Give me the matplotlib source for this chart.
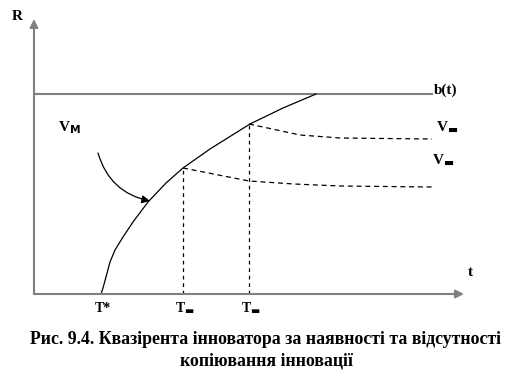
import matplotlib.pyplot as plt

# values (t to the right, R upward, origin at axes corner)
curve_t = [67, 69, 72, 76, 81, 89, 99, 114, 132, 149, 176, 216, 249, 282]
curve_r = [0, 6, 17, 32, 44, 57, 72, 92, 111, 126, 145, 170, 186, 200]

b_level = 200
b_end = 398

# dashed paths after copying starts
low_t = [149, 215, 260, 306, 398]
low_r = [126, 113, 110, 108, 107]
high_t = [215, 266, 306, 398]
high_r = [170, 159, 156, 155]

t_star = 67
t_low = 149
t_high = 215

plt.rcParams['font.family'] = ['Liberation Serif', 'DejaVu Sans']

fig = plt.figure(figsize=(5.32, 3.88), dpi=100)
ax = fig.add_axes([0, 0, 1, 1])
ax.set_xlim(-34, 498)
ax.set_ylim(-94, 294)
ax.axis('off')

grey = '#808080'
# axes with arrows
ax.annotate('', xy=(430, 0), xytext=(0, 0),
            arrowprops=dict(arrowstyle='-|>', color=grey, lw=1.5,
                            mutation_scale=12, shrinkA=0, shrinkB=0))
ax.annotate('', xy=(0, 275), xytext=(0, 0),
            arrowprops=dict(arrowstyle='-|>', color=grey, lw=1.5,
                            mutation_scale=12, shrinkA=0, shrinkB=0))
ax.plot([0, b_end], [b_level, b_level], color=grey, lw=1.5)

ax.plot(curve_t, curve_r, color='black', lw=0.9)
ax.plot(low_t, low_r, color='black', lw=0.9, ls=(0, (4, 3)))
ax.plot(high_t, high_r, color='black', lw=0.9, ls=(0, (4, 3)))
ax.plot([t_low, t_low], [0, low_r[0]], color='black', lw=0.9, ls=(0, (3, 3)))
ax.plot([t_high, t_high], [0, high_r[0]], color='black', lw=0.9, ls=(0, (3, 3)))

# curved pointer from V_M label to curve
ax.annotate('', xy=(116, 93), xytext=(64, 141),
            arrowprops=dict(arrowstyle='-|>', color='black', lw=0.9,
                            mutation_scale=12, shrinkA=0, shrinkB=0,
                            connectionstyle='arc3,rad=0.3'))

bold = dict(fontweight='bold', color='black')
ax.text(-22, 278, 'R', fontsize=11, ha='left', va='center', **bold)
ax.text(436, 22, 't', fontsize=11, ha='center', va='center', **bold)
ax.text(400, 204, 'b(t)', fontsize=11, ha='left', va='center', **bold)
ax.text(24, 166, 'V$_\\mathbf{M}$', fontsize=11, ha='left', va='center', **bold)
ax.text(402, 167, 'V$_▬$', fontsize=11, ha='left', va='center', **bold)
ax.text(398, 134, 'V$_▬$', fontsize=11, ha='left', va='center', **bold)
ax.text(t_star + 2, -14, 'T*', fontsize=10, ha='center', va='center', **bold)
ax.text(t_low + 2, -14, 'T$_▬$', fontsize=10, ha='center', va='center', **bold)
ax.text(t_high + 2, -14, 'T$_▬$', fontsize=10, ha='center', va='center', **bold)

ax.text(232, -46, 'Рис. 9.4. Квазірента інноватора за наявності та відсутності',
        fontsize=12.8, ha='center', va='center', **bold)
ax.text(232, -67, 'копіювання інновації', fontsize=12.8, ha='center', va='center', **bold)

fig.savefig('out.png', dpi=100)
